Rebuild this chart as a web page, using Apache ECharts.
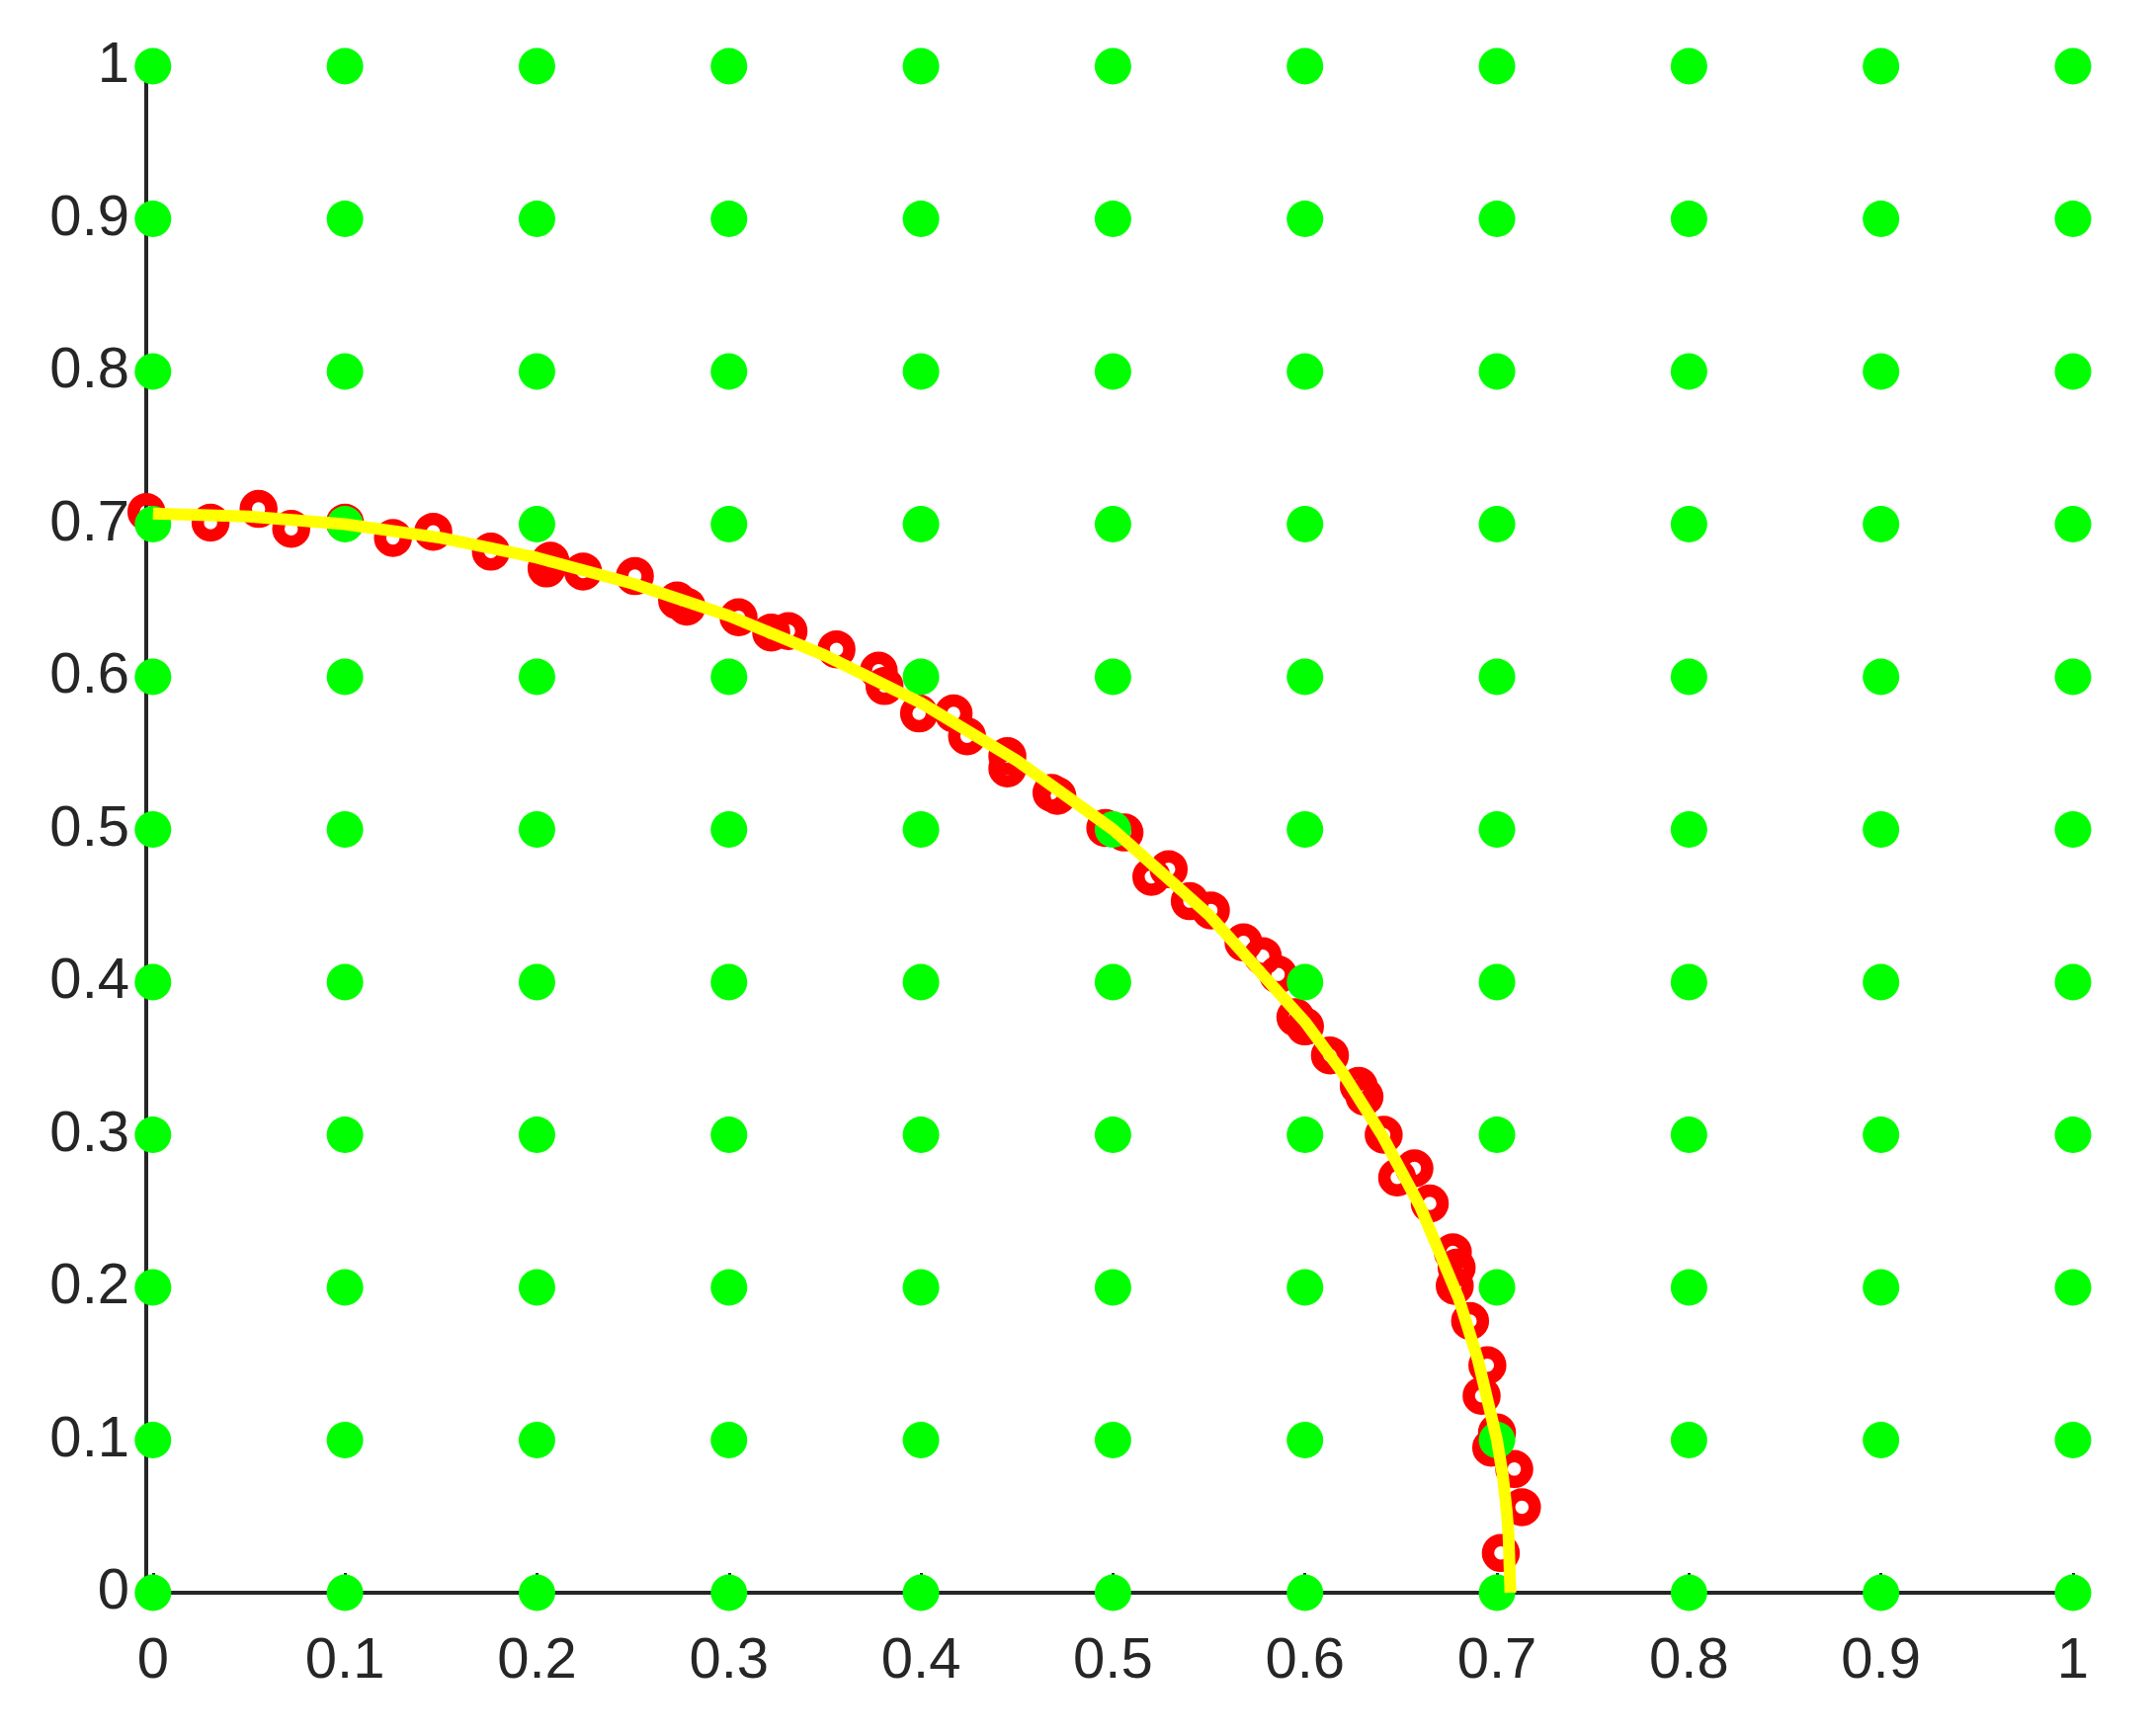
<!DOCTYPE html>
<html>
<head>
<meta charset="utf-8">
<script src="https://cdn.jsdelivr.net/npm/echarts@6/dist/echarts.min.js"></script>
<style>
  html, body { margin: 0; padding: 0; background: #fff; }
  #chart { width: 2182px; height: 1757px; }
</style>
</head>
<body>
<div id="chart"></div>
<script>
// grid positions of the green dots (both axes)
const gridValues = [0, 0.1, 0.2, 0.3, 0.4, 0.5, 0.6, 0.7, 0.8, 0.9, 1]

// red rings
const noisyX = [
  -0.0034, 0.030, 0.055, 0.072, 0.100, 0.125, 0.146, 0.176, 0.205, 0.207,
  0.224, 0.251, 0.273, 0.278, 0.305, 0.322, 0.331, 0.356, 0.378, 0.381,
  0.399, 0.417, 0.424, 0.445, 0.445, 0.468, 0.471, 0.496, 0.506, 0.520,
  0.529, 0.540, 0.551, 0.568, 0.578, 0.586, 0.595, 0.600, 0.613, 0.628,
  0.631, 0.641, 0.648, 0.657, 0.665, 0.677, 0.679, 0.678, 0.686, 0.695,
  0.692, 0.700, 0.697, 0.709, 0.713, 0.702
]
const noisyY = [
  0.708, 0.701, 0.710, 0.697, 0.701, 0.691, 0.695, 0.682, 0.671, 0.676,
  0.669, 0.666, 0.650, 0.646, 0.639, 0.629, 0.630, 0.618, 0.604, 0.594,
  0.576, 0.576, 0.561, 0.548, 0.540, 0.524, 0.522, 0.501, 0.498, 0.469,
  0.474, 0.453, 0.447, 0.426, 0.417, 0.405, 0.377, 0.371, 0.352, 0.332,
  0.325, 0.300, 0.272, 0.278, 0.255, 0.223, 0.213, 0.201, 0.178, 0.149,
  0.129, 0.105, 0.095, 0.081, 0.056, 0.026
]

// yellow arc
const arcX = [0, 0.05, 0.1, 0.15, 0.2, 0.25, 0.3, 0.35, 0.4, 0.45, 0.5, 0.55,
  0.6, 0.62, 0.64, 0.66, 0.68, 0.69, 0.7, 0.703, 0.705, 0.706, 0.707]
const arcY = [0.707, 0.705, 0.700, 0.691, 0.678, 0.661, 0.640, 0.614, 0.583, 0.545, 0.500, 0.444,
  0.374, 0.340, 0.300, 0.253, 0.193, 0.153, 0.100, 0.077, 0.054, 0.038, 0]

const gridPoints = []
gridValues.forEach(x => gridValues.forEach(y => gridPoints.push([x, y])))

const chart = echarts.init(document.getElementById('chart'), null, { renderer: 'canvas' })

const axisColor = '#262626'
const labelFont = {
  color: axisColor,
  fontSize: 58,
  fontFamily: 'Liberation Sans, Arial, sans-serif'
}

chart.setOption({
  animation: false,
  backgroundColor: '#fff',
  grid: { left: 148, right: 84, top: 67, bottom: 145, containLabel: false },
  xAxis: {
    type: 'value',
    min: -0.0035,
    max: 1,
    splitNumber: 10,
    minInterval: 0.1,
    maxInterval: 0.1,
    axisLine: { show: true, onZero: false, lineStyle: { color: axisColor, width: 4 } },
    axisTick: { show: true, inside: true, length: 20, lineStyle: { color: axisColor, width: 3 } },
    axisLabel: Object.assign({ margin: 41, showMinLabel: false,
      formatter: v => (v < 0 ? '' : String(Math.round(v * 10) / 10)) }, labelFont),
    splitLine: { show: false }
  },
  yAxis: {
    type: 'value',
    min: 0,
    max: 1,
    interval: 0.1,
    axisLine: { show: true, onZero: false, lineStyle: { color: axisColor, width: 4 } },
    axisTick: { show: true, inside: true, length: 20, lineStyle: { color: axisColor, width: 3 } },
    axisLabel: Object.assign({ margin: 17,
      formatter: v => String(Math.round(v * 10) / 10) }, labelFont),
    splitLine: { show: false }
  },
  series: [
    {
      type: 'scatter',
      z: 2,
      clip: false,
      symbol: 'circle',
      symbolSize: 26,
      itemStyle: { color: 'rgba(0,0,0,0)', borderColor: '#ff0000', borderWidth: 12.5, opacity: 1 },
      emphasis: { disabled: true },
      data: noisyX.map((x, i) => [x, noisyY[i]])
    },
    {
      type: 'scatter',
      z: 3,
      clip: false,
      symbol: 'circle',
      symbolSize: 37,
      itemStyle: { color: '#00ff00', opacity: 1 },
      emphasis: { disabled: true },
      data: gridPoints
    },
    {
      type: 'line',
      z: 4,
      clip: false,
      showSymbol: false,
      smooth: false,
      lineStyle: { color: '#ffff00', width: 12, cap: 'butt', join: 'round', opacity: 1 },
      emphasis: { disabled: true },
      data: arcX.map((x, i) => [x, arcY[i]])
    }
  ]
})
</script>
</body>
</html>
